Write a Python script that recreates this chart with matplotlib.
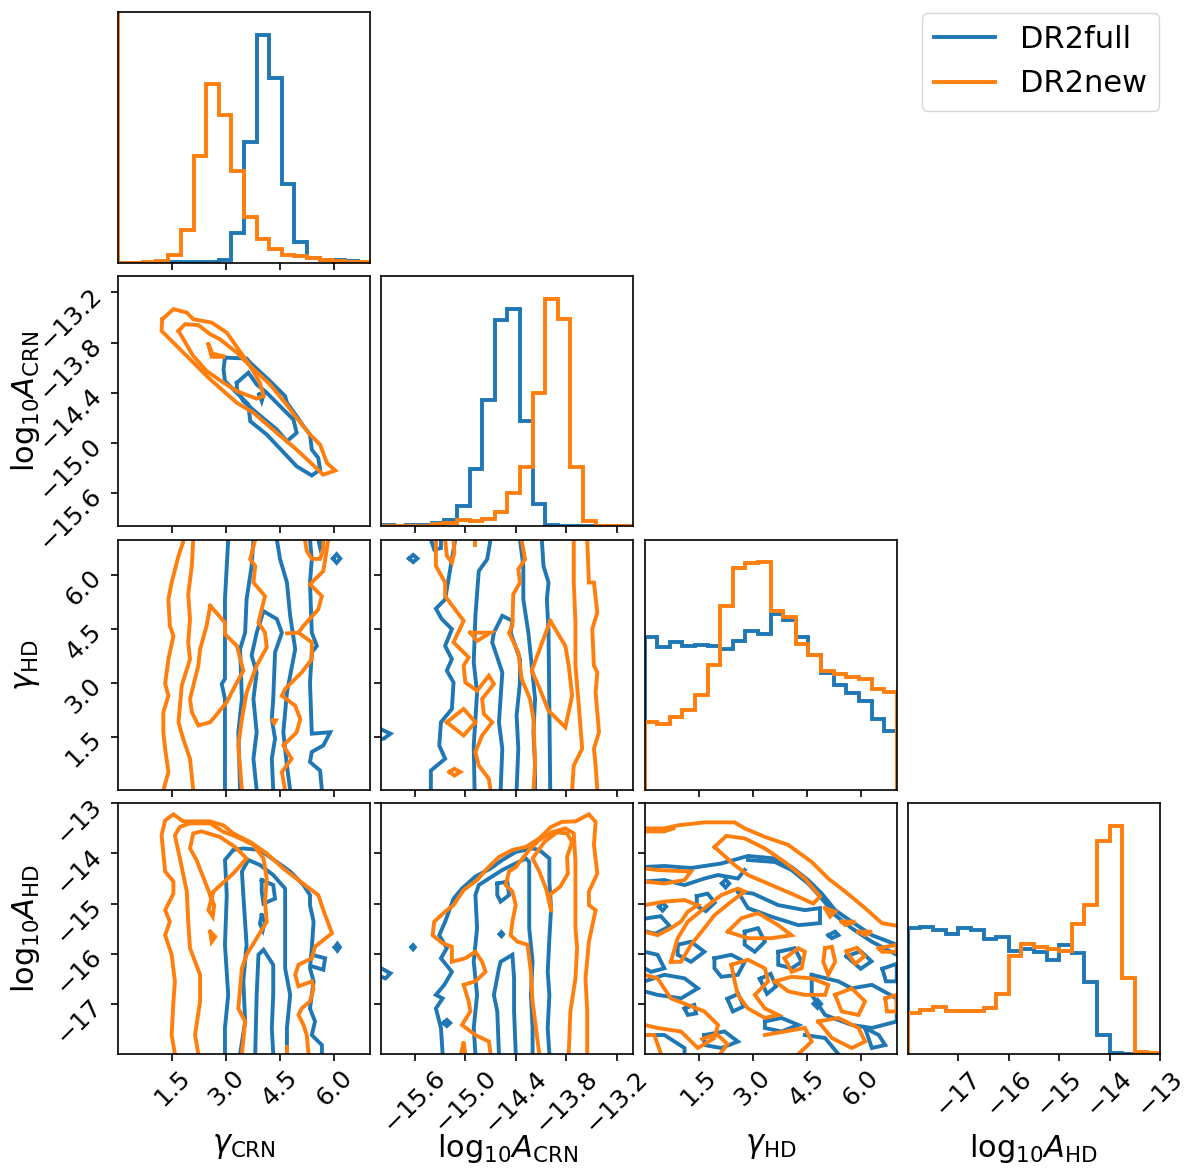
import matplotlib.pyplot as plt

BLUE = "#1f77b4"
ORANGE = "#ff7f0e"
LW = 2.8

series = ["DR2full", "DR2new"]
labels = [r"$\gamma_{\rm CRN}$", r"$\mathrm{log}_{10}A_{\rm CRN}$",
          r"$\gamma_{\rm HD}$", r"$\mathrm{log}_{10}A_{\rm HD}$"]
ranges = [(0.0, 7.0), (-16.0, -13.0), (0.0, 7.0), (-18.0, -13.0)]
ticks = [[1.5, 3.0, 4.5, 6.0],
         [-15.6, -15.0, -14.4, -13.8, -13.2],
         [1.5, 3.0, 4.5, 6.0],
         [-17, -16, -15, -14, -13]]

# 1d histograms, 20 bins over each range (counts)
hist_g_crn_full = [0, 0, 0, 0, 1, 2, 2, 2, 9, 89, 364, 686, 556, 236, 62, 14, 9, 7, 5, 0]
hist_g_crn_new = [0, 0, 1, 4, 24, 99, 322, 539, 444, 277, 139, 72, 41, 24, 19, 14, 7, 4, 3, 2]
hist_a_crn_full = [4, 2, 4, 5, 10, 18, 61, 171, 378, 618, 653, 316, 68, 3, 1, 0, 0, 0, 0, 0]
hist_a_crn_new = [0, 1, 1, 1, 7, 10, 18, 15, 23, 43, 100, 178, 401, 683, 623, 178, 15, 1, 0, 0]
hist_g_hd_full = [462, 432, 445, 433, 437, 435, 426, 449, 478, 469, 530, 512, 461, 406, 352, 317, 292, 267, 215, 178]
hist_g_hd_new = [204, 199, 219, 242, 285, 375, 554, 669, 682, 685, 539, 520, 439, 406, 359, 350, 340, 334, 304, 295]
hist_a_hd_full = [378, 383, 373, 360, 378, 373, 345, 353, 311, 316, 306, 283, 328, 305, 217, 58, 3, 0, 0, 0]
hist_a_hd_new = [123, 133, 140, 130, 128, 130, 137, 181, 295, 330, 322, 316, 311, 390, 448, 640, 685, 230, 6, 3]

# contour lines (data coordinates), gamma_CRN vs log10A_CRN
cont_10_full = [
    [(2.97, -13.98), (2.93, -14.12), (2.97, -14.26), (3.62, -14.54), (3.67, -14.74), (4.13, -14.90),
     (4.96, -15.28), (5.38, -15.39), (5.61, -15.32), (5.56, -15.18), (5.38, -15.08), (5.33, -14.90),
     (5.15, -14.80), (4.96, -14.68), (4.69, -14.52), (4.64, -14.44), (4.22, -14.26), (3.67, -14.04),
     (3.57, -13.99), (2.97, -13.98)],
    [(3.30, -14.28), (3.62, -14.16), (3.85, -14.30), (4.13, -14.40), (4.59, -14.60), (4.87, -14.72),
     (4.96, -14.88), (4.69, -14.98), (4.41, -14.84), (3.85, -14.64), (3.48, -14.50), (3.30, -14.36),
     (3.30, -14.28)],
    [(3.92, -14.42), (4.06, -14.40), (3.99, -14.50), (3.92, -14.42)],
]
cont_10_new = [
    [(1.23, -13.52), (1.21, -13.66), (2.56, -14.24), (3.30, -14.52), (3.76, -14.64), (4.41, -14.88),
     (4.96, -15.08), (5.70, -15.38), (6.03, -15.33), (5.80, -15.24), (5.61, -15.02), (5.33, -14.90),
     (4.92, -14.68), (4.64, -14.52), (4.22, -14.30), (3.67, -14.08), (3.02, -13.68), (2.60, -13.56),
     (2.09, -13.52), (1.91, -13.44), (1.54, -13.40), (1.23, -13.52)],
    [(1.68, -13.66), (1.86, -13.58), (2.23, -13.59), (2.56, -13.70), (2.83, -13.76), (3.30, -13.92),
     (3.67, -14.08), (3.94, -14.28), (4.04, -14.44), (3.85, -14.47), (3.53, -14.42), (3.30, -14.38),
     (2.93, -14.28), (2.46, -14.14), (2.09, -13.96), (1.68, -13.66)],
    [(2.51, -13.82), (2.60, -13.97), (2.97, -13.97), (2.62, -13.93), (2.51, -13.82)],
]

# gamma_CRN vs gamma_HD
cont_20_full = [
    [(3.06, 7.0), (3.02, 6.26), (2.97, 5.33), (2.97, 4.40), (2.97, 3.11), (2.88, 2.97), (2.97, 2.55), (2.97, 0.0)],
    [(3.76, 7.0), (3.71, 6.26), (3.57, 5.33), (3.53, 4.40), (3.39, 3.94), (3.44, 2.55), (3.34, 1.62), (3.39, 0.0)],
    [(3.85, 0.0), (3.76, 0.88), (3.85, 1.62), (3.76, 2.55), (3.85, 3.29), (3.71, 3.76), (3.85, 4.40),
     (4.04, 5.0), (4.41, 4.78), (4.55, 4.40), (4.36, 3.85), (4.31, 2.55), (4.27, 1.99), (4.36, 1.44),
     (4.27, 0.88), (4.31, 0.0)],
    [(4.41, 7.0), (4.50, 6.45), (4.69, 5.80), (4.78, 4.87), (4.92, 3.94), (4.69, 2.73), (4.59, 1.62),
     (4.69, 0.69), (4.78, 0.0)],
    [(5.33, 7.0), (5.38, 6.45), (5.33, 5.80), (5.38, 4.40), (5.52, 4.03), (5.38, 3.85), (5.33, 3.01),
     (5.38, 1.58), (5.89, 1.62), (5.70, 1.25), (5.38, 1.07), (5.33, 0.79), (5.61, 0.55), (5.66, 0.0)],
    [(5.56, 7.0), (5.61, 6.78), (5.70, 7.0)],
    [(5.97, 6.47), (6.07, 6.59), (6.17, 6.47), (6.07, 6.35), (5.97, 6.47)],
]
cont_20_new = [
    [(1.83, 7.0), (1.68, 6.54), (1.49, 5.80), (1.40, 5.33), (1.44, 4.59), (1.54, 4.31), (1.40, 3.66),
     (1.31, 2.97), (1.40, 2.64), (1.26, 2.18), (1.26, 1.62), (1.31, 1.16), (1.40, 0.51), (1.26, 0.0)],
    [(2.09, 7.0), (2.05, 6.26), (1.95, 5.47), (2.00, 4.78), (1.95, 4.13), (2.00, 3.66), (1.77, 2.92),
     (1.68, 1.90), (1.81, 1.44), (2.00, 0.88), (2.09, 0.0)],
    [(2.56, 5.15), (2.65, 5.05), (2.97, 4.68), (2.97, 4.36), (3.30, 4.03), (3.48, 3.34), (3.30, 3.01),
     (3.02, 2.46), (2.56, 1.90), (2.23, 1.81), (2.05, 2.18), (2.00, 2.55), (2.23, 3.48), (2.28, 3.94),
     (2.46, 4.59), (2.56, 5.15)],
    [(3.81, 7.0), (3.67, 6.45), (3.81, 6.26), (3.76, 5.80), (4.08, 5.42), (3.90, 4.68), (4.08, 4.40),
     (4.13, 3.99), (3.85, 3.48), (3.57, 2.73), (3.44, 1.99), (3.34, 1.25), (3.44, 0.0)],
    [(5.84, 7.0), (5.70, 6.12), (5.33, 5.75), (5.66, 5.42), (5.56, 5.05), (5.15, 4.59), (5.01, 4.40),
     (5.38, 4.13), (5.38, 3.66), (5.10, 3.29), (4.64, 2.83), (4.55, 2.64), (4.92, 2.36), (5.06, 1.99),
     (4.96, 1.62), (4.59, 1.25), (4.82, 0.88), (4.55, 0.51), (4.64, 0.0)],
    [(4.69, 4.38), (5.01, 4.40)],
    [(5.19, 7.0), (5.24, 6.68), (5.38, 6.46), (5.61, 6.46), (5.70, 6.72), (5.70, 7.0)],
    [(4.30, 1.95), (4.38, 1.95), (4.34, 1.88), (4.30, 1.95)],
]

# log10A_CRN vs gamma_HD
cont_21_full = [
    [(-15.41, 0.0), (-15.41, 0.55), (-15.24, 0.88), (-15.31, 1.25), (-15.29, 1.90), (-15.16, 2.27),
     (-15.14, 3.01), (-15.22, 3.34), (-15.16, 3.66), (-15.24, 4.03), (-15.16, 4.50), (-15.28, 4.78),
     (-15.35, 5.07), (-15.24, 5.33), (-15.18, 6.17), (-15.12, 7.0)],
    [(-15.41, 7.0), (-15.37, 6.72), (-15.29, 6.76), (-15.29, 7.0)],
    [(-14.89, 0.0), (-14.90, 1.25), (-14.86, 2.73), (-14.90, 3.57), (-14.88, 4.87), (-14.84, 6.12),
     (-14.74, 6.45), (-14.70, 7.0)],
    [(-14.58, 0.0), (-14.56, 1.16), (-14.60, 1.90), (-14.56, 3.29), (-14.68, 4.13), (-14.66, 4.40),
     (-14.56, 4.87), (-14.44, 4.73), (-14.46, 4.40), (-14.35, 3.66), (-14.35, 3.01), (-14.39, 2.09),
     (-14.37, 1.16), (-14.39, 0.0)],
    [(-14.35, 7.0), (-14.31, 6.26), (-14.31, 5.33), (-14.25, 4.40), (-14.21, 3.48), (-14.17, 2.55),
     (-14.19, 1.62), (-14.17, 0.69), (-14.17, 0.0)],
    [(-14.09, 7.0), (-14.07, 6.26), (-14.01, 5.80), (-14.03, 5.33), (-14.01, 4.40), (-13.99, 0.0)],
    [(-15.67, 6.47), (-15.62, 6.57), (-15.57, 6.47), (-15.62, 6.37), (-15.67, 6.47)],
    [(-16.0, 1.70), (-15.89, 1.58), (-15.97, 1.44), (-16.0, 1.44)],
]
cont_21_new = [
    [(-15.35, 7.0), (-15.35, 6.26), (-15.24, 5.80), (-15.24, 5.42), (-15.02, 4.73), (-15.14, 4.13),
     (-14.96, 3.71), (-15.02, 3.48), (-15.00, 3.01), (-14.86, 2.78), (-14.72, 3.20), (-14.66, 2.97),
     (-14.80, 2.55), (-14.78, 2.13), (-14.68, 1.90), (-14.80, 1.53), (-14.88, 1.07), (-14.84, 0.69),
     (-14.72, 0.32), (-14.70, 0.0)],
    [(-15.24, 7.0), (-15.22, 6.54), (-15.16, 6.36), (-15.13, 6.63), (-15.14, 7.0)],
    [(-15.22, 1.90), (-15.02, 2.27), (-14.88, 1.90), (-15.02, 1.53), (-15.22, 1.90)],
    [(-15.19, 0.51), (-15.13, 0.60), (-15.06, 0.51), (-15.13, 0.41), (-15.19, 0.51)],
    [(-14.94, 4.40), (-14.70, 4.40), (-14.86, 4.17), (-14.94, 4.40)],
    [(-14.88, 7.0), (-14.88, 6.84)],
    [(-14.33, 7.0), (-14.29, 6.45), (-14.37, 6.17), (-14.35, 5.80), (-14.43, 5.47), (-14.44, 4.59),
     (-14.48, 4.40), (-14.37, 3.85), (-14.33, 3.11), (-14.23, 2.55), (-14.19, 1.99), (-14.17, 0.69),
     (-14.19, 0.0)],
    [(-13.99, 4.73), (-13.81, 4.03), (-13.77, 3.48), (-13.73, 2.64), (-13.81, 1.76), (-14.01, 2.22),
     (-14.13, 2.92), (-14.21, 3.34), (-13.99, 4.73)],
    [(-13.71, 7.0), (-13.71, 5.80), (-13.69, 4.68), (-13.69, 3.48), (-13.65, 2.36), (-13.61, 1.16),
     (-13.71, 0.69), (-13.73, 0.0)],
    [(-13.55, 7.0), (-13.53, 5.80), (-13.47, 5.80), (-13.43, 4.96), (-13.49, 4.50), (-13.47, 3.48),
     (-13.43, 3.29), (-13.45, 2.73), (-13.41, 1.62), (-13.47, 1.16), (-13.45, 0.69), (-13.43, 0.0)],
]

# gamma_CRN vs log10A_HD
cont_30_full = [
    [(2.97, -18.0), (2.97, -17.48), (3.06, -16.82), (2.97, -15.82), (3.02, -14.83), (2.97, -14.13),
     (3.20, -13.93), (3.48, -13.90), (3.94, -13.93), (4.41, -14.17), (4.78, -14.36), (5.15, -14.63),
     (5.33, -14.83), (5.33, -15.03), (5.43, -15.36), (5.38, -15.89), (5.33, -16.29), (5.43, -16.55),
     (5.33, -17.09), (5.47, -17.35), (5.38, -17.62), (5.66, -17.82), (5.66, -18.0)],
    [(5.38, -16.02), (5.75, -16.09), (5.70, -16.32), (5.43, -16.26)],
    [(6.02, -15.87), (6.09, -15.80), (6.16, -15.87), (6.09, -15.94), (6.02, -15.87)],
    [(3.39, -18.0), (3.53, -17.35), (3.48, -16.55), (3.57, -15.82), (3.48, -14.83), (3.44, -14.36),
     (3.62, -14.13), (3.94, -14.23), (4.31, -14.43), (4.64, -14.70), (4.64, -15.49), (4.64, -16.29),
     (4.78, -16.82), (4.69, -17.48), (4.69, -18.0)],
    [(3.81, -18.0), (3.85, -16.82), (3.90, -16.02), (4.04, -15.92), (4.31, -16.22), (4.31, -16.82),
     (4.27, -17.48), (4.31, -18.0)],
    [(3.99, -14.53), (4.31, -14.63), (4.36, -14.90), (4.04, -15.00), (3.99, -14.76), (3.99, -14.53)],
    [(3.99, -15.23), (4.08, -15.36), (4.02, -15.53), (3.94, -15.40), (3.99, -15.23)],
]
cont_30_new = [
    [(1.58, -18.0), (1.49, -17.62), (1.54, -16.95), (1.58, -16.55), (1.49, -16.02), (1.31, -15.63),
     (1.44, -15.36), (1.31, -15.13), (1.54, -14.80), (1.54, -14.56), (1.31, -14.36), (1.21, -13.64),
     (1.31, -13.34), (1.54, -13.22), (1.81, -13.36), (2.56, -13.36), (2.93, -13.44), (3.20, -13.60),
     (3.67, -13.77), (4.13, -14.0), (4.59, -14.30), (5.06, -14.56), (5.56, -14.83), (5.70, -15.13),
     (5.94, -15.59), (5.47, -15.86), (5.38, -16.09), (5.01, -16.22), (4.92, -16.42), (5.01, -16.65),
     (5.38, -16.55), (5.43, -16.69), (5.33, -16.95), (5.10, -17.09), (5.01, -17.22), (5.15, -17.42),
     (5.24, -17.62), (5.29, -18.0)],
    [(2.23, -18.0), (2.14, -17.62), (2.28, -16.95), (2.28, -16.42), (2.00, -15.89), (1.95, -15.36),
     (1.91, -14.76), (1.72, -14.10), (1.58, -13.64), (1.72, -13.47), (2.00, -13.40), (2.56, -13.40),
     (2.93, -13.57), (3.30, -13.67), (3.76, -13.83), (4.04, -14.10), (4.13, -14.50), (4.08, -14.96),
     (4.13, -15.36), (3.85, -15.69), (3.57, -16.02), (3.44, -16.29), (3.34, -17.09), (3.53, -17.35),
     (3.44, -18.0)],
    [(2.56, -14.83), (2.18, -14.13), (2.00, -13.90), (2.09, -13.60), (2.32, -13.56), (2.83, -13.67),
     (3.25, -13.87), (3.57, -14.10), (3.20, -14.40), (2.65, -14.76), (2.51, -15.13), (2.63, -15.26),
     (2.67, -15.03), (2.56, -14.83)],
    [(2.56, -15.56), (2.70, -15.66), (2.60, -15.76), (2.56, -15.56)],
    [(4.69, -17.85), (4.69, -18.0)],
]

# log10A_CRN vs log10A_HD
cont_31_full = [
    [(-15.27, -18.0), (-15.29, -17.48), (-15.35, -17.09), (-15.27, -16.89), (-15.35, -16.82),
     (-15.25, -16.62), (-15.16, -16.36), (-15.29, -16.09), (-15.22, -15.89), (-15.31, -15.63),
     (-15.24, -15.36), (-15.14, -14.90), (-15.04, -14.70), (-14.88, -14.46), (-14.70, -14.30),
     (-14.56, -14.13), (-14.40, -13.97), (-14.20, -13.90), (-14.12, -13.93), (-14.00, -14.10),
     (-14.00, -14.56), (-13.98, -15.09), (-14.00, -15.69), (-14.02, -16.36), (-14.00, -16.82),
     (-14.02, -17.48), (-14.00, -18.0)],
    [(-14.88, -18.0), (-14.90, -17.48), (-14.86, -16.82), (-14.90, -16.16), (-14.86, -15.49),
     (-14.88, -14.83), (-14.84, -14.63), (-14.72, -14.50), (-14.56, -14.33), (-14.44, -14.23),
     (-14.28, -14.10), (-14.24, -14.17), (-14.24, -14.83), (-14.24, -15.49), (-14.20, -16.16),
     (-14.22, -16.82), (-14.20, -17.48), (-14.20, -18.0)],
    [(-14.60, -18.0), (-14.62, -17.15), (-14.66, -16.82), (-14.60, -16.29), (-14.58, -16.16),
     (-14.44, -16.02), (-14.42, -16.49), (-14.42, -17.15), (-14.40, -18.0)],
    [(-14.62, -14.60), (-14.50, -14.56), (-14.48, -14.83), (-14.58, -14.96), (-14.62, -14.83),
     (-14.62, -14.60)],
    [(-14.59, -15.61), (-14.57, -15.57), (-14.55, -15.61), (-14.57, -15.65), (-14.59, -15.61)],
    [(-15.64, -15.87), (-15.62, -15.83), (-15.60, -15.87), (-15.62, -15.91), (-15.64, -15.87)],
    [(-15.26, -17.38), (-15.22, -17.32), (-15.18, -17.38), (-15.22, -17.44), (-15.26, -17.38)],
    [(-16.0, -16.29), (-15.89, -16.39), (-15.95, -16.49), (-16.0, -16.46)],
]
cont_31_new = [
    [(-13.55, -18.0), (-13.55, -17.15), (-13.57, -16.49), (-13.53, -15.76), (-13.45, -15.13),
     (-13.53, -15.03), (-13.53, -14.76), (-13.43, -14.40), (-13.47, -13.83), (-13.45, -13.37),
     (-13.53, -13.22), (-13.69, -13.36), (-13.85, -13.37), (-13.98, -13.47), (-14.12, -13.70),
     (-14.28, -13.87), (-14.44, -13.93), (-14.60, -14.07), (-14.74, -14.30), (-14.86, -14.53),
     (-15.02, -14.73), (-15.14, -15.03), (-15.24, -15.16), (-15.37, -15.36), (-15.39, -15.63),
     (-15.27, -15.79), (-15.16, -15.86), (-15.16, -16.16), (-15.00, -16.09), (-14.88, -15.96),
     (-14.80, -16.16), (-14.76, -16.36), (-14.88, -16.55), (-15.02, -16.62), (-14.96, -16.95),
     (-14.94, -17.15), (-15.04, -17.42), (-14.88, -17.62), (-14.72, -17.75), (-14.70, -18.0)],
    [(-13.77, -18.0), (-13.75, -17.15), (-13.69, -16.49), (-13.67, -15.89), (-13.69, -15.49),
     (-13.69, -14.50), (-13.69, -14.17), (-13.71, -13.60), (-13.81, -13.50), (-13.96, -13.57),
     (-14.12, -13.73), (-14.24, -13.93), (-14.40, -14.27), (-14.48, -14.36), (-14.52, -14.63),
     (-14.44, -14.76), (-14.40, -15.03), (-14.44, -15.36), (-14.46, -15.63), (-14.38, -15.76),
     (-14.26, -15.82), (-14.22, -16.36), (-14.20, -16.95), (-14.16, -17.48), (-14.12, -18.0)],
    [(-13.98, -15.13), (-14.00, -14.83), (-13.87, -14.66), (-13.78, -14.40), (-13.79, -14.07),
     (-13.73, -13.77), (-13.79, -13.60), (-13.91, -13.58), (-14.06, -13.77), (-14.20, -14.10),
     (-14.12, -14.36), (-14.04, -14.70), (-13.98, -15.13)],
    [(-15.05, -18.0), (-15.02, -17.75), (-15.00, -18.0)],
]

# gamma_HD vs log10A_HD
cont_32_full = [
    [(0.0, -14.27), (0.55, -14.25), (1.29, -14.29), (2.13, -14.20), (2.87, -14.05), (3.62, -14.10),
     (4.08, -14.27), (4.54, -14.53), (4.92, -14.80), (5.29, -15.13), (5.75, -15.36), (6.31, -15.63),
     (7.0, -15.82)],
    [(2.87, -14.13), (3.62, -14.17), (4.08, -14.33), (4.54, -14.60), (4.92, -14.90), (5.29, -15.23),
     (5.75, -15.49), (6.31, -15.76), (7.0, -16.02)],
    [(0.0, -14.56), (0.55, -14.53), (1.11, -14.63), (1.66, -14.50), (2.04, -14.43), (2.59, -14.50),
     (2.78, -14.33)],
    [(2.59, -14.76), (3.01, -14.80), (3.71, -15.03), (4.45, -15.13), (4.87, -15.09), (4.87, -15.39),
     (4.27, -15.43), (3.52, -15.26), (2.87, -15.09), (2.59, -14.76)],
    [(0.92, -15.82), (1.29, -15.76), (1.66, -15.96), (1.29, -16.16), (0.92, -16.02), (0.92, -15.82)],
    [(0.0, -15.96), (0.36, -16.02), (0.55, -16.29), (0.18, -16.36), (0.0, -16.29)],
    [(0.0, -16.55), (0.55, -16.42), (1.11, -16.49), (1.48, -16.69), (1.01, -16.89), (0.36, -16.82),
     (0.0, -16.75)],
    [(1.11, -17.09), (1.38, -17.02), (1.43, -17.19), (1.20, -17.22), (1.11, -17.09)],
    [(1.94, -16.09), (2.41, -16.02), (2.78, -16.16), (2.59, -16.42), (2.13, -16.46), (1.94, -16.29),
     (1.94, -16.09)],
    [(2.78, -15.56), (3.15, -15.49), (3.34, -15.76), (3.06, -15.96), (2.78, -15.82), (2.78, -15.56)],
    [(3.71, -15.96), (4.17, -15.89), (4.36, -16.16), (4.08, -16.29), (3.71, -16.22), (3.71, -15.96)],
    [(4.64, -16.42), (5.38, -16.55), (5.75, -16.69), (6.31, -16.62), (7.0, -16.89), (7.0, -17.35),
     (6.31, -17.48), (5.75, -17.42), (5.01, -17.22), (4.64, -16.82), (4.64, -16.42)],
    [(5.10, -15.63), (5.29, -15.56), (5.38, -15.63), (5.20, -15.69), (5.10, -15.63)],
    [(0.0, -17.62), (0.55, -17.62), (1.11, -17.88), (1.11, -18.0)],
    [(3.34, -17.35), (3.80, -17.28), (4.27, -17.42), (3.80, -17.55), (3.34, -17.48), (3.34, -17.35)],
    [(1.66, -17.62), (2.22, -17.55), (2.59, -17.75), (2.13, -17.88), (1.66, -17.82), (1.66, -17.62)],
    [(4.45, -17.62), (5.01, -17.68), (5.38, -18.0)],
    [(6.12, -17.48), (6.50, -17.62), (6.68, -17.82), (6.31, -17.88), (6.12, -17.48)],
    [(0.40, -15.06), (0.50, -14.98), (0.60, -15.06), (0.50, -15.14), (0.40, -15.06)],
    [(2.15, -14.60), (2.25, -14.52), (2.35, -14.60), (2.25, -14.68), (2.15, -14.60)],
    [(4.70, -17.00), (4.80, -16.92), (4.90, -17.00), (4.80, -17.08), (4.70, -17.00)],
    [(0.0, -15.30), (0.45, -15.25), (0.70, -15.45), (0.30, -15.60), (0.0, -15.55)],
    [(1.45, -14.85), (1.75, -14.80), (1.95, -14.98), (1.70, -15.15), (1.45, -15.05), (1.45, -14.85)],
    [(3.20, -16.50), (3.50, -16.40), (3.65, -16.65), (3.40, -16.80), (3.20, -16.50)],
    [(5.60, -16.05), (6.00, -15.95), (6.30, -16.15), (6.00, -16.30), (5.60, -16.05)],
    [(2.30, -16.90), (2.60, -16.80), (2.75, -17.05), (2.45, -17.15), (2.30, -16.90)],
    [(6.60, -16.30), (7.0, -16.20), (7.0, -16.55), (6.70, -16.55), (6.60, -16.30)],
]
cont_32_new = [
    [(0.0, -13.50), (0.55, -13.50), (0.92, -13.44), (1.66, -13.38), (2.50, -13.38), (2.78, -13.50),
     (3.34, -13.67), (3.99, -13.83), (4.64, -14.17), (5.10, -14.50), (5.57, -14.76), (6.12, -15.09),
     (6.59, -15.39), (7.0, -15.44)],
    [(0.0, -13.56), (0.55, -13.56), (0.80, -13.50)],
    [(1.94, -13.87), (2.27, -13.65), (2.78, -13.70), (3.34, -13.90), (3.89, -14.17), (4.45, -14.50),
     (4.87, -14.86), (4.68, -15.00), (4.17, -14.83), (3.52, -14.63), (2.87, -14.43), (2.50, -14.23),
     (1.94, -13.87)],
    [(0.0, -14.30), (0.36, -14.33), (1.29, -14.36), (1.11, -14.53), (0.55, -14.60), (0.0, -14.56)],
    [(0.0, -15.03), (0.55, -14.96), (1.11, -14.93), (1.48, -15.03), (1.20, -15.16), (1.01, -15.36),
     (0.73, -15.49), (0.36, -15.63), (0.0, -15.56)],
    [(0.73, -16.16), (0.92, -15.69), (1.20, -15.36), (1.66, -15.09), (2.13, -14.83), (2.59, -14.70),
     (2.78, -14.76), (2.41, -14.96), (1.94, -15.23), (1.66, -15.49), (1.29, -15.82), (1.01, -16.16),
     (0.73, -16.16)],
    [(2.31, -15.56), (2.69, -15.29), (3.15, -15.19), (3.71, -15.43), (4.08, -15.63), (3.52, -15.69),
     (2.87, -15.69), (2.31, -15.56)],
    [(2.41, -16.22), (2.87, -16.12), (3.34, -16.29), (3.43, -16.55), (3.06, -16.82), (3.34, -17.09),
     (3.71, -17.22), (3.34, -17.28), (2.87, -17.09), (2.59, -16.82), (2.50, -16.55), (2.41, -16.22)],
    [(0.0, -16.42), (0.36, -16.49), (0.73, -16.89), (1.20, -17.02), (1.66, -17.15), (2.04, -17.42),
     (1.94, -17.68), (1.48, -17.88), (1.01, -17.55), (0.36, -17.48), (0.0, -17.42)],
    [(3.62, -16.55), (4.08, -16.46), (4.64, -16.49), (5.10, -16.62), (5.01, -16.82), (4.45, -16.82),
     (3.99, -16.75), (3.62, -16.55)],
    [(3.89, -16.09), (4.27, -15.89), (4.45, -15.96), (4.36, -16.29), (4.08, -16.36), (3.89, -16.09)],
    [(4.82, -17.35), (5.38, -17.28), (5.94, -17.48), (6.12, -17.75), (5.75, -17.88), (5.20, -17.68),
     (4.82, -17.35)],
    [(5.29, -16.82), (5.75, -16.69), (6.12, -16.95), (5.94, -17.22), (5.47, -17.15), (5.29, -16.82)],
    [(6.50, -15.89), (7.0, -15.82), (7.0, -15.96), (6.59, -15.96), (6.50, -15.89)],
    [(6.68, -16.89), (7.0, -16.82), (7.0, -17.15), (6.73, -17.15), (6.68, -16.89)],
    [(3.34, -17.62), (3.89, -17.55), (4.45, -17.48), (4.64, -17.75), (4.27, -18.0)],
    [(0.0, -17.62), (0.27, -17.62), (0.46, -18.0)],
    [(5.01, -15.09), (5.29, -15.16), (5.15, -15.26), (5.01, -15.09)],
    [(5.47, -15.36), (5.85, -15.36), (5.57, -15.43), (5.47, -15.36)],
    [(5.94, -15.56), (6.31, -15.56), (6.12, -15.63), (5.94, -15.56)],
    [(5.01, -15.89), (5.20, -15.86), (5.29, -16.16), (5.10, -16.42), (4.96, -16.16), (5.01, -15.89)],
    [(1.60, -17.70), (2.00, -17.60), (2.30, -17.80), (2.10, -18.0)],
    [(5.60, -15.95), (5.90, -15.88), (6.10, -16.05), (5.85, -16.20), (5.60, -15.95)],
]

hists = [(hist_g_crn_full, hist_g_crn_new), (hist_a_crn_full, hist_a_crn_new),
         (hist_g_hd_full, hist_g_hd_new), (hist_a_hd_full, hist_a_hd_new)]
contours = {
    (1, 0): (cont_10_full, cont_10_new),
    (2, 0): (cont_20_full, cont_20_new),
    (2, 1): (cont_21_full, cont_21_new),
    (3, 0): (cont_30_full, cont_30_new),
    (3, 1): (cont_31_full, cont_31_new),
    (3, 2): (cont_32_full, cont_32_new),
}

fig, axes = plt.subplots(4, 4, figsize=(12, 11.73), dpi=100)
fig.subplots_adjust(left=0.0983, right=0.9667, bottom=0.1014, top=0.9898,
                    wspace=0.044, hspace=0.052)

for i in range(4):
    for j in range(4):
        ax = axes[i, j]
        if j > i:
            ax.axis("off")
            continue
        ax.tick_params(labelsize=18, width=1.2, length=5)
        for s in ax.spines.values():
            s.set_linewidth(1.2)
        ax.set_xlim(*ranges[j])
        ax.set_xticks(ticks[j])
        if i == j:
            lo, hi = ranges[i]
            n = len(hists[i][0])
            edges = [lo + (hi - lo) * k / n for k in range(n + 1)]
            for vals, col in zip(hists[i], [BLUE, ORANGE]):
                ax.stairs(vals, edges, color=col, lw=LW)
            top = max(max(hists[i][0]), max(hists[i][1]))
            ax.set_ylim(0, 1.1 * top)
            ax.set_yticks([])
            if i == 0:
                ax.axvline(lo, color=ORANGE, lw=LW)
        else:
            for lines, col in zip(contours[(i, j)], [BLUE, ORANGE]):
                for pts in lines:
                    xs, ys = zip(*pts)
                    ax.plot(xs, ys, color=col, lw=LW, solid_joinstyle="miter")
            ax.set_ylim(*ranges[i])
            ax.set_yticks(ticks[i])
            if j == 0:
                ax.set_ylabel(labels[i], fontsize=22)
                ax.yaxis.set_label_coords(-0.30, 0.5)
                for lab in ax.get_yticklabels():
                    lab.set_rotation(45)
            else:
                ax.set_yticklabels([])
        if i == 3:
            ax.set_xlabel(labels[j], fontsize=22)
            ax.xaxis.set_label_coords(0.5, -0.31)
            for lab in ax.get_xticklabels():
                lab.set_rotation(45)
        else:
            ax.set_xticklabels([])

handles = [plt.Line2D([], [], color=BLUE, lw=LW), plt.Line2D([], [], color=ORANGE, lw=LW)]
fig.legend(handles, series, loc="upper right", bbox_to_anchor=(0.966, 0.989),
           borderaxespad=0, fontsize=22)

fig.savefig("out.png", dpi=100)
